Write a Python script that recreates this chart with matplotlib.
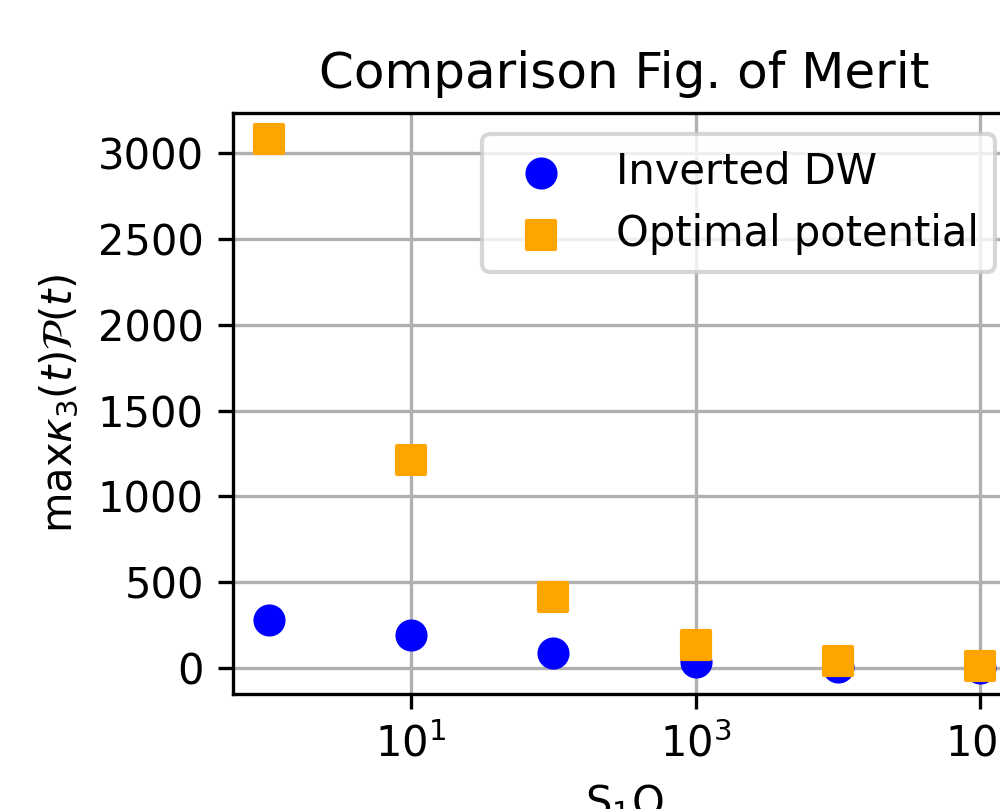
import numpy as np
import matplotlib
matplotlib.use("Agg")
import matplotlib.pyplot as plt
from matplotlib.ticker import FixedLocator, NullLocator, MultipleLocator, LogFormatterSciNotation

# S_1Q values (log x axis)
s1q = [1, 10, 100, 1000, 10000, 100000]
inverted_dw = [281, 192, 87, 34, 8, 2]
optimal_potential = [3081, 1210, 414, 132, 40, 13]
x_ticks = [10, 1000, 100000]

fig = plt.figure(figsize=(1000 / 300, 809 / 300), dpi=300)
# axes run past the right edge and the x label is clipped, as in the reference
ax = fig.add_axes([0.233, 0.1422, 0.783, 0.7181])

ax.scatter(s1q, inverted_dw, color="blue", marker="o", s=45, label="Inverted DW", zorder=3)
ax.scatter(s1q, optimal_potential, color="orange", marker="s", s=45, label="Optimal potential", zorder=3)

ax.set_xscale("log")
ax.xaxis.set_major_locator(FixedLocator(x_ticks))
ax.xaxis.set_major_formatter(LogFormatterSciNotation())
ax.xaxis.set_minor_locator(NullLocator())
ax.yaxis.set_major_locator(MultipleLocator(500))

ax.set_xlabel("S$_1$Q")
ax.set_ylabel(r"max$\kappa_3(t)\mathcal{P}(t)$")
ax.set_title("Comparison Fig. of Merit")
ax.grid(True)
ax.legend(loc="upper right")

fig.savefig("out.png", dpi=300)
